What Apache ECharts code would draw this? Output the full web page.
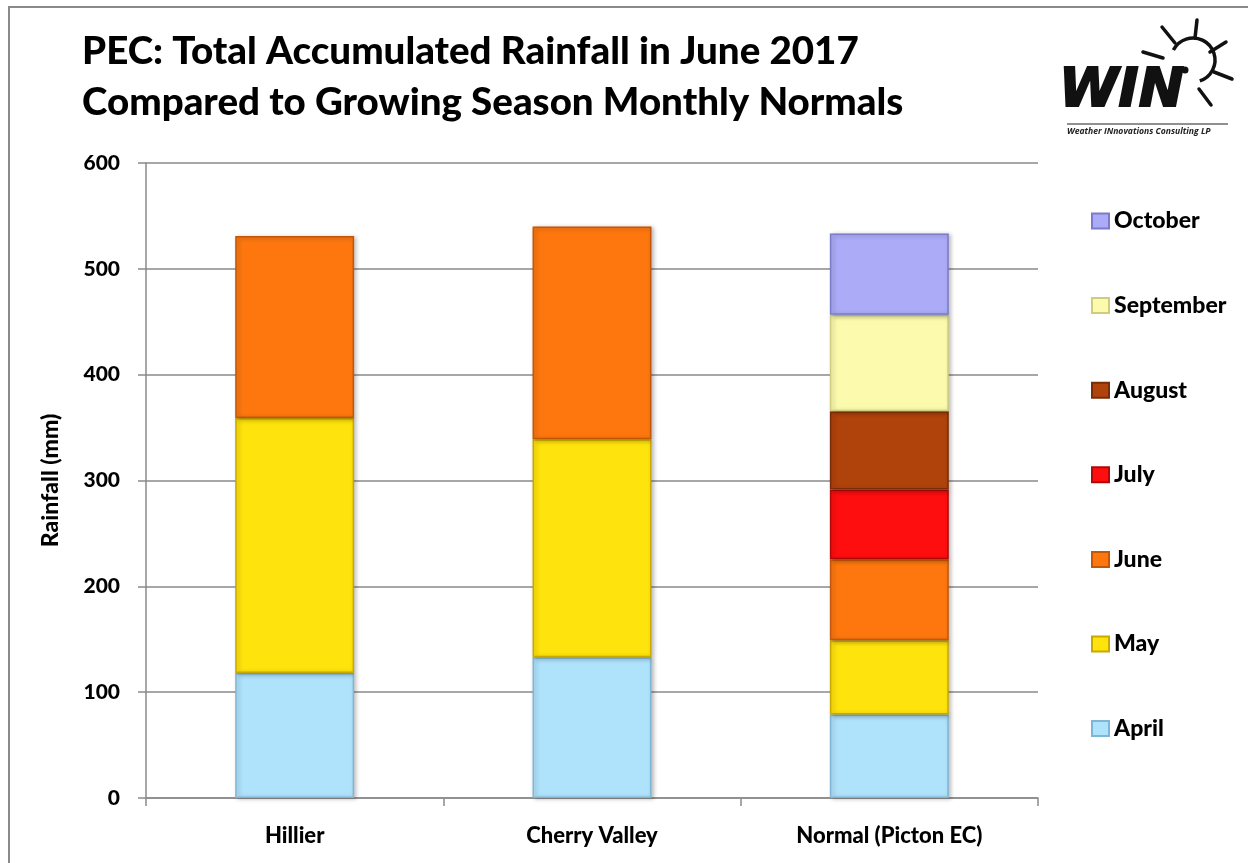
<!DOCTYPE html>
<html>
<head>
<meta charset="utf-8">
<script src="https://cdn.jsdelivr.net/npm/echarts@6/dist/echarts.min.js"></script>
<style>
html,body{margin:0;padding:0;background:#fff;}
#chart{width:1248px;height:863px;}
</style>
</head>
<body>
<div id="chart"></div>
<script>
// ---- data ----
const categories = ['Hillier', 'Cherry Valley', 'Normal (Picton EC)'];
const april     = [118, 133, 79];
const may       = [241, 206, 70];
const june      = [172, 201, 76.5];
const july      = [null, null, 66];
const august    = [null, null, 74];
const september = [null, null, 91];
const october   = [null, null, 77];
const yTicks = [0, 100, 200, 300, 400, 500, 600];

const FONT = 'Lato';
const W = 900;
const seriesDefs = [
  {name: 'April',     data: april,     color: '#AFE3FB', border: '#7FB6D6'},
  {name: 'May',       data: may,       color: '#FFE30C', border: '#C9A800'},
  {name: 'June',      data: june,      color: '#FD770E', border: '#C4560A'},
  {name: 'July',      data: july,      color: '#FE0E0E', border: '#B30808'},
  {name: 'August',    data: august,    color: '#B0420C', border: '#7A2C06'},
  {name: 'September', data: september, color: '#FBFAAD', border: '#CFCD7C'},
  {name: 'October',   data: october,   color: '#ABABF7', border: '#7B7BCB'}
];

const chart = echarts.init(document.getElementById('chart'));

const series = seriesDefs.map(s => ({
  name: s.name,
  type: 'bar',
  stack: 'total',
  barWidth: '40%',
  data: s.data,
  itemStyle: {
    color: s.color,
    borderColor: s.border,
    borderWidth: 1.5,
    shadowBlur: 4,
    shadowColor: 'rgba(0,0,0,0.25)',
    shadowOffsetX: 2,
    shadowOffsetY: 1
  },
  emphasis: {disabled: true}
}));

// sun rays for logo (decoration)
const rays = [
  [1162, 27, 1175, 43],
  [1197, 20, 1195, 38],
  [1226, 42, 1210, 52],
  [1214, 72, 1232, 79],
  [1199, 89, 1211, 105],
  [1143, 52, 1163, 58]
];

const option = {
  backgroundColor: '#fff',
  animation: false,
  title: {
    text: 'PEC: Total Accumulated Rainfall in June 2017\nCompared to Growing Season Monthly Normals',
    left: 82,
    top: 26,
    padding: 0,
    textStyle: {fontFamily: FONT, fontWeight: W, fontSize: 38.5, lineHeight: 51, color: '#000'}
  },
  legend: {
    orient: 'vertical',
    left: 1086,
    top: 204,
    itemWidth: 17,
    itemHeight: 15,
    itemGap: 60.6,
    icon: 'rect',
    data: ['October', 'September', 'August', 'July', 'June', 'May', 'April'],
    textStyle: {fontFamily: FONT, fontWeight: W, fontSize: 23, lineHeight: 24, color: '#000'},
    selectedMode: false
  },
  grid: {left: 146, right: 210, top: 163, bottom: 65, containLabel: false},
  xAxis: {
    type: 'category',
    data: categories,
    axisLine: {lineStyle: {color: '#8a8a8a', width: 1.5}},
    axisTick: {show: true, length: 8, lineStyle: {color: '#8a8a8a', width: 1.5}},
    axisLabel: {fontFamily: FONT, fontWeight: W, fontSize: 22, color: '#000', margin: 27}
  },
  yAxis: {
    type: 'value',
    min: yTicks[0],
    max: yTicks[yTicks.length - 1],
    interval: 100,
    name: 'Rainfall (mm)',
    nameLocation: 'middle',
    nameGap: 84,
    nameRotate: 90,
    nameTextStyle: {fontFamily: FONT, fontWeight: W, fontSize: 23, color: '#000'},
    axisLine: {show: true, lineStyle: {color: '#8a8a8a', width: 1.5}},
    axisTick: {show: true, length: 8, lineStyle: {color: '#8a8a8a', width: 1.5}},
    axisLabel: {fontFamily: FONT, fontWeight: W, fontSize: 21, color: '#000', margin: 26},
    splitLine: {lineStyle: {color: '#8a8a8a', width: 1.5}}
  },
  graphic: [
    {type: 'rect', z: -10, silent: true, shape: {x: 9, y: 7, width: 1260, height: 880},
     style: {fill: 'none', stroke: '#8a8a8a', lineWidth: 2}},
    // logo
    {type: 'text', left: 1058, top: 64, silent: true,
     style: {text: 'WIN', fontFamily: 'DejaVu Sans', fontWeight: 'bold', fontStyle: 'italic', fontSize: 54,
             fill: '#111', stroke: '#111', lineWidth: 2}},
    {type: 'line', silent: true, shape: {x1: 1067, y1: 124, x2: 1228, y2: 124}, style: {stroke: '#222', lineWidth: 1.2}},
    {type: 'text', left: 1067, top: 127, silent: true,
     style: {text: 'Weather INnovations Consulting LP', fontFamily: 'Open Sans', fontWeight: 'bold', fontStyle: 'italic',
             fontSize: 8.6, fill: '#222'}},
    {type: 'arc', silent: true, shape: {cx: 1193, cy: 60, r: 22, startAngle: -Math.PI * 0.85, endAngle: Math.PI * 0.4, clockwise: true},
     style: {stroke: '#111', lineWidth: 3.5, fill: 'none'}},
    {type: 'circle', silent: true, shape: {cx: 1185, cy: 70, r: 3.5}, style: {fill: '#111'}}
  ].concat(rays.map(r => ({type: 'line', silent: true, shape: {x1: r[0], y1: r[1], x2: r[2], y2: r[3]},
                           style: {stroke: '#111', lineWidth: 3.5, lineCap: 'round'}}))),
  series: series
};

chart.setOption(option);
</script>
</body>
</html>
